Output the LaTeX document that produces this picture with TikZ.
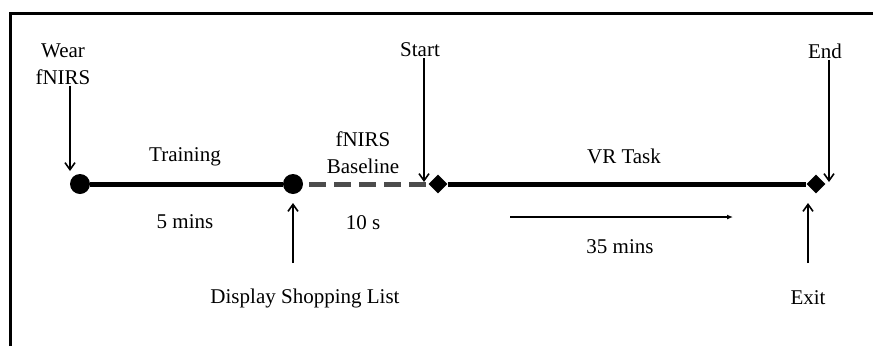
\documentclass[tikz,border=0pt]{standalone}
\usepackage{fontspec}
\setmainfont{Liberation Serif}
\usetikzlibrary{arrows.meta,shapes.geometric}

\begin{document}
\begin{tikzpicture}[x=1pt,y=-1pt,>=Latex,
    font=\fontsize{21}{27}\selectfont,
    dot/.style={circle,fill=black,inner sep=0pt,minimum size=20pt},
    milestone/.style={diamond,fill=black,inner sep=0pt,minimum size=19pt},
    phase/.style={line width=5pt},
    pointer/.style={-{Straight Barb[length=7pt,width=10pt]},line width=1.6pt},
    label/.style={align=center,inner sep=1pt}]
  \useasboundingbox (0,0) rectangle (873,346);
  % frame
  \draw[line width=3pt] (10,346) -- (10,13) -- (873,13);

  % time points
  \node[dot] (wearpt) at (80,184) {};
  \node[dot] (listpt) at (293,184) {};
  \node[milestone] (startpt) at (438,184) {};
  \node[milestone] (endpt) at (816,184) {};

  \draw[phase] (wearpt) -- (listpt);
  \draw[phase,gray!60!black,dash pattern=on 17pt off 8pt]
    (listpt.east) ++(6,0) coordinate (basea) (basea) -- (startpt.west);
  \draw[phase] (startpt) -- (endpt);

  % labels on the line
  \node[label] (training) at (185,157) {Training};
  \node[label] (fivemin) at (185,222) {5 mins};
  \node[label] (baseline) at (363,153) {fNIRS\\Baseline};
  \node[label] (tensec) at (363,223) {10 s};
  \node[label] (vrtask) at (624,156) {VR Task};
  \node[label] (thirtyfive) at (620,247) {35 mins};

  % events
  \node[label] (wear) at (63,64) {Wear\\fNIRS};
  \node[label] (start) at (420,50) {Start};
  \node[label] (end) at (825,51) {End};
  \node[label] (display) at (305,298) {Display Shopping List};
  \node[label] (exit) at (808,298) {Exit};

  \coordinate (weartip) at (70,171);
  \coordinate (starttip) at (424,182);
  \coordinate (endtip) at (829,182);
  \coordinate (listtip) at (293,203);
  \coordinate (exittip) at (808,203);
  \draw[pointer] (wear.south -| weartip) -- (weartip);
  \draw[pointer] (start.south -| starttip) -- (starttip);
  \draw[pointer] (end.south -| endtip) -- (endtip);
  \draw[pointer] (listtip |- 0,263) coordinate (lista) (lista) -- (listtip);
  \draw[pointer] (exittip |- 0,263) coordinate (exita) (exita) -- (exittip);

  % duration arrow
  \coordinate (vra) at (510,217);
  \coordinate (vrb) at (733,217);
  \draw[-{Latex[length=6pt,width=5pt]},line width=1.4pt] (vra) -- (vrb);
\end{tikzpicture}
\end{document}
